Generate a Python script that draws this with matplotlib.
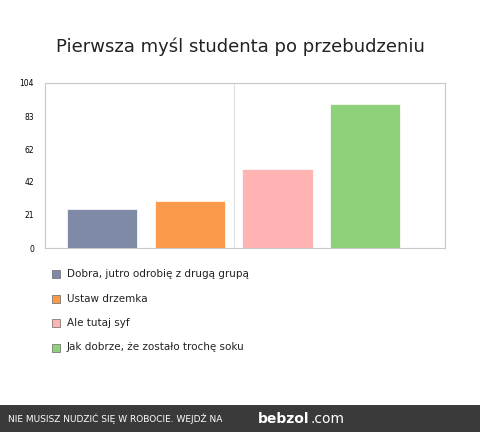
import matplotlib
matplotlib.use("Agg")
import matplotlib.pyplot as plt
from matplotlib.patches import Rectangle

title = "Pierwsza myśl studenta po przebudzeniu"
labels = ["Dobra, jutro odrobię z drugą grupą", "Ustaw drzemka", "Ale tutaj syf",
          "Jak dobrze, że zostało trochę soku"]
values = [24.6, 29.6, 49.8, 90.8]
colors = ["#7f8ba6", "#fb9a4a", "#ffb3b3", "#8fd17a"]
yticks = [0, 21, 42, 62, 83, 104]

W, H = 480, 432
fig = plt.figure(figsize=(4.8, 4.32), dpi=100)
fig.patch.set_facecolor("white")
ax = fig.add_axes([45/W, 1-248/H, 400/W, 165/H])
x = list(range(len(values)))
ax.bar(x, values, width=0.8, color=colors, edgecolor="white", linewidth=0.5, zorder=3)
ax.set_xlim(-0.65, 3.91)
ax.set_ylim(0, 104)
ax.set_yticks(yticks)
ax.set_yticklabels([str(t) for t in yticks], fontsize=5.5)
ax.set_xticks([])
ax.axvline(1.5, color="#e0e0e0", lw=0.8, zorder=1)
for s in ax.spines.values():
    s.set_color("#c8c8c8"); s.set_linewidth(0.8)
ax.tick_params(axis="y", length=0, pad=8)
fig.text(0.5, 1-47/H, title, ha="center", va="center", fontsize=13, color="#222222")

for i, (lab, c) in enumerate(zip(labels, colors)):
    yc = 1 - (274 + i*24.5)/H
    fig.patches.append(Rectangle((52/W, yc-4/H), 8/W, 8/H, transform=fig.transFigure,
                                 facecolor=c, edgecolor="#666666", lw=0.5))
    fig.text(67/W, yc, lab, va="center", fontsize=7.5, color="#222222")

fig.patches.append(Rectangle((0, 0), 1, 27/H, transform=fig.transFigure,
                             facecolor="#3a3a3a", edgecolor="none"))
fig.text(8/W, 13/H, "NIE MUSISZ NUDZIĆ SIĘ W ROBOCIE. WEJDŹ NA", color="white",
         fontsize=6.5, va="center")
fig.text(258/W, 13/H, "bebzol", color="white", fontsize=10, fontweight="bold", va="center")
fig.text(310/W, 13/H, ".com", color="white", fontsize=10, va="center")
fig.savefig("out.png", dpi=100)
